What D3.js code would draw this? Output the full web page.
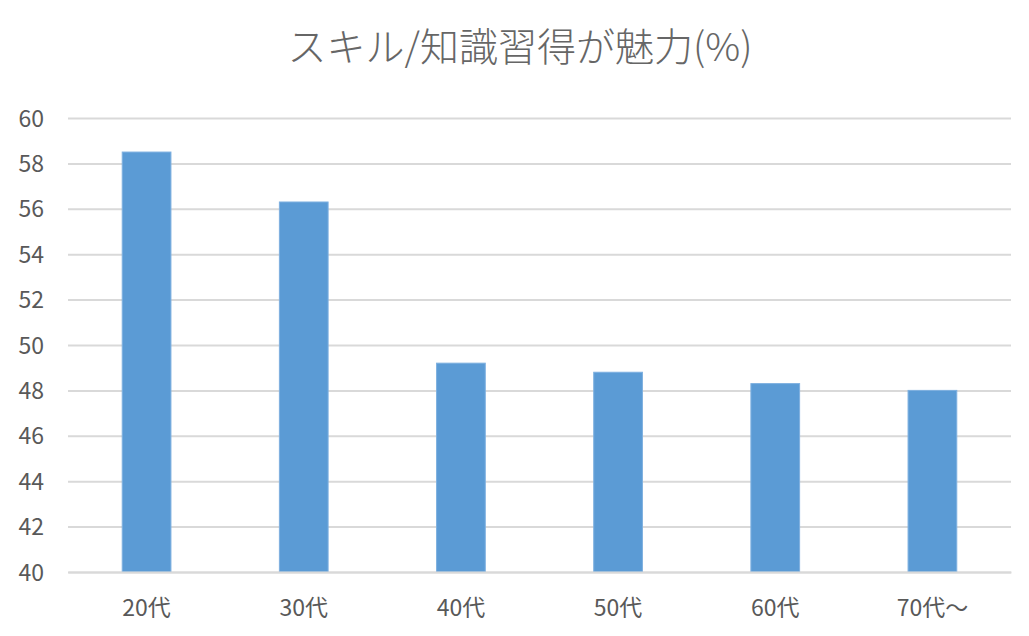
<!DOCTYPE html>
<html>
<head>
<meta charset="utf-8">
<script src="https://cdn.jsdelivr.net/npm/d3@7"></script>
<style>
  body { margin: 0; background: #fff; }
  text { font-family: "Noto Sans CJK JP", "Noto Sans", sans-serif; fill: #595959; }
</style>
</head>
<body>
<svg id="chart" width="1029" height="636"></svg>
<script>
// data
var ageGroups = ["20代", "30代", "40代", "50代", "60代", "70代～"];
var skillPct = [58.5, 56.3, 49.2, 48.8, 48.3, 48.0];
var yTicks = [40, 42, 44, 46, 48, 50, 52, 54, 56, 58, 60];
var chartTitle = "スキル/知識習得が魅力(%)";

var margin = { top: 118, right: 18, bottom: 64, left: 68 },
  w = 1029 - margin.left - margin.right,
  h = 636 - margin.top - margin.bottom;

var svg = d3.select("#chart");

//title
svg.append("text")
  .attr("x", 520)
  .attr("y", 61)
  .attr("text-anchor", "middle")
  .style("font-size", "39px")
  .style("font-weight", "300")
  .style("fill", "#666")
  .text(chartTitle);

var g = svg.append("g")
  .attr("transform", "translate(" + margin.left + "," + margin.top + ")");

var xScale = d3.scaleBand().domain(ageGroups).range([0, w]).paddingInner(0.69).paddingOuter(0.345);
var yScale = d3.scaleLinear().domain([40, 60]).range([h, 0]);

// gridlines
g.append("g")
  .attr("class", "grid")
  .call(d3.axisLeft(yScale).tickValues(yTicks).tickSize(-w).tickFormat(""))
  .call(function (s) {
    s.select(".domain").remove();
    s.selectAll("line").attr("stroke", "#d9d9d9").attr("stroke-width", 2);
  });

// y labels
g.append("g")
  .call(d3.axisLeft(yScale).tickValues(yTicks).tickSize(0).tickPadding(24))
  .call(function (s) {
    s.select(".domain").remove();
    s.selectAll("text").style("font-size", "23px").attr("dy", "0.35em");
  });

// bars
g.selectAll("rect.bar")
  .data(skillPct)
  .enter().append("rect")
  .attr("class", "bar")
  .attr("x", function (d, i) { return xScale(ageGroups[i]); })
  .attr("width", xScale.bandwidth())
  .attr("y", function (d) { return yScale(d); })
  .attr("height", function (d) { return h - yScale(d); })
  .attr("fill", "#5b9bd5")
  .attr("stroke", "#7eb0e0")
  .attr("stroke-width", 1);

// x axis
g.append("g")
  .attr("transform", "translate(0," + h + ")")
  .call(d3.axisBottom(xScale).tickSize(0).tickPadding(28))
  .call(function (s) {
    s.select(".domain").attr("stroke", "#d9d9d9").attr("stroke-width", 2);
    s.selectAll("text").style("font-size", "23px");
  });
</script>
</body>
</html>
